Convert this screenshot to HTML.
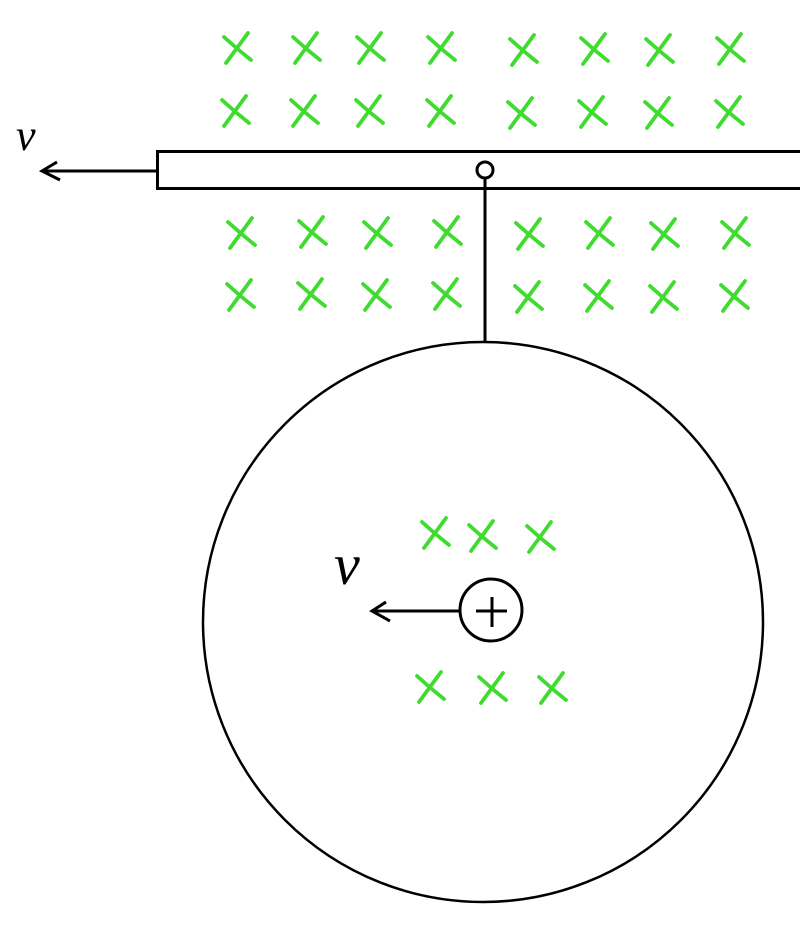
<!DOCTYPE html>
<html><head><meta charset="utf-8"><style>html,body{margin:0;padding:0;background:#fff}svg{display:block}</style></head>
<body>
<svg width="800" height="937" viewBox="0 0 800 937" xmlns="http://www.w3.org/2000/svg">
<defs>
<g id="x" stroke="#3fdc2f" stroke-width="3.8" stroke-linecap="round" fill="none">
<path d="M-13,-11 Q0,1 14,12"/>
<path d="M11,-15 Q0,0 -11,15"/>
</g>
</defs>
<g>
<use href="#x" x="237" y="48"/><use href="#x" x="306" y="48"/><use href="#x" x="370" y="48"/><use href="#x" x="441" y="48"/>
<use href="#x" x="523" y="50"/><use href="#x" x="594" y="49"/><use href="#x" x="659" y="50"/><use href="#x" x="730" y="49"/>
<use href="#x" x="235" y="111"/><use href="#x" x="304" y="111"/><use href="#x" x="369" y="111"/><use href="#x" x="440" y="111"/>
<use href="#x" x="521" y="113"/><use href="#x" x="592" y="112"/><use href="#x" x="658" y="113"/><use href="#x" x="729" y="112"/>
<use href="#x" x="241" y="233"/><use href="#x" x="312" y="232"/><use href="#x" x="377" y="233"/><use href="#x" x="447" y="232"/>
<use href="#x" x="529" y="234"/><use href="#x" x="599" y="233"/><use href="#x" x="664" y="234"/><use href="#x" x="735" y="233"/>
<use href="#x" x="240" y="295"/><use href="#x" x="311" y="294"/><use href="#x" x="376" y="295"/><use href="#x" x="446" y="294"/>
<use href="#x" x="528" y="297"/><use href="#x" x="598" y="296"/><use href="#x" x="663" y="297"/><use href="#x" x="734" y="296"/>
<use href="#x" x="435" y="533"/><use href="#x" x="482" y="536"/><use href="#x" x="540" y="537"/>
<use href="#x" x="430" y="687"/><use href="#x" x="492" y="688"/><use href="#x" x="552" y="688"/>
</g>
<g stroke="#000" stroke-width="3" fill="none">
<rect x="157.5" y="151.5" width="660" height="37"/>
<circle cx="485" cy="170" r="8"/>
<line x1="485" y1="178" x2="485" y2="341"/>
<circle cx="483" cy="622" r="280" stroke-width="2.5"/>
<circle cx="491" cy="610" r="31"/>
<path d="M476,611 L507,611 M492,597 L492,627"/>
<path d="M157,171 L42,171 M57,162 L42,171 L60,180"/>
<path d="M460,611 L372,611 M386,602 L372,611 L390,621"/>
</g>
<text x="16" y="150" font-family="Liberation Serif" font-style="italic" font-size="44" fill="#000">v</text>
<text x="334" y="584" font-family="Liberation Serif" font-style="italic" font-size="58" fill="#000">v</text>
</svg>
</body></html>
